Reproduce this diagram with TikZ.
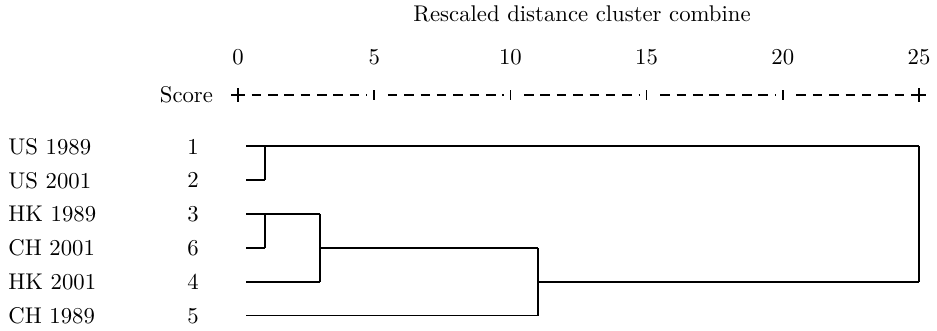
\documentclass[tikz,border=0pt]{standalone}
\usepackage{tikz}
\usetikzlibrary{positioning}
\tikzset{
    case/.style = {anchor=west,inner sep=0},
    idx/.style = {inner sep=0},
    axis/.style = {line width=0.8pt,dash pattern=on 4.2pt off 3pt},
    tick/.style = {line width=0.7pt},
    tree/.style = {line width=0.8pt}
}
\begin{document}
\begin{tikzpicture}[x=0.44pt,y=-0.44pt]
        \newcommand*\hsep{27.24}
        \newcommand*\vsep{33.9}
        \useasboundingbox (0,0) rectangle (937,330);
        % Title and scale
        \node (title) at (582,14) {Rescaled distance cluster combine};
        \foreach \k in {0,5,...,25}
            \node (n\k) at (238+\k*\hsep,57) {\k};
        \foreach \k in {0,5,...,25}
            \coordinate (t\k) at (238+\k*\hsep,95);
        \node[anchor=east] (score) at (221,95) {Score};
        \foreach \src/\dest in {t0/t5,t5/t10,t10/t15,t15/t20,t20/t25}
            \draw[axis,shorten <=6,shorten >=3] (\src) -- (\dest);
        \foreach \k in {5,10,15,20}
            \draw[tick] (t\k) ++(0,-5) -- ++(0,10);
        \foreach \k in {0,25}
            \draw[tick] (t\k) ++(-7,0) -- ++(14,0) (t\k) ++(0,-7) -- ++(0,14);
        % Cases
        \path (8,146.5) node[case] (us89) {US 1989}
            to +(0,\vsep) node[case] (us01) {US 2001}
            to +(0,2*\vsep) node[case] (hk89) {HK 1989}
            to +(0,3*\vsep) node[case] (ch01) {CH 2001}
            to +(0,4*\vsep) node[case] (hk01) {HK 2001}
            to +(0,5*\vsep) node[case] (ch89) {CH 1989}
        ;
        \path (193,146.5) node[idx] (i1) {1}
            to +(0,\vsep) node[idx] (i2) {2}
            to +(0,2*\vsep) node[idx] (i3) {3}
            to +(0,3*\vsep) node[idx] (i6) {6}
            to +(0,4*\vsep) node[idx] (i4) {4}
            to +(0,5*\vsep) node[idx] (i5) {5}
        ;
        % Leaves
        \path (246,146) coordinate (s1)
            to +(0,\vsep) coordinate (s2)
            to +(0,2*\vsep) coordinate (s3)
            to +(0,3*\vsep) coordinate (s6)
            to +(0,4*\vsep) coordinate (s4)
            to +(0,5*\vsep) coordinate (s5)
        ;
        % Joins
        \path (238+1*\hsep,0) coordinate (x1)
            (238+3*\hsep,0) coordinate (x3)
            (238+11*\hsep,0) coordinate (x11);
        \coordinate (u1) at (x1 |- s1);
        \coordinate (u2) at (x1 |- s2);
        \coordinate (v3) at (x1 |- s3);
        \coordinate (v6) at (x1 |- s6);
        \coordinate (w3) at (x3 |- s3);
        \coordinate (w4) at (x3 |- s4);
        \coordinate (w6) at (x3 |- s6);
        \coordinate (y6) at (x11 |- s6);
        \coordinate (y5) at (x11 |- s5);
        \coordinate (y4) at (x11 |- s4);
        \coordinate (z1) at (t25 |- s1);
        \coordinate (z4) at (t25 |- s4);
        % Dendrogram
        \foreach \src/\dest in {s1/z1,s2/u2,u2/u1,s3/w3,s6/v6,v6/v3,w3/w4,s4/w4,w6/y6,s5/y5,y5/y6,y4/z4,z4/z1}
            \draw[tree] (\src) -- (\dest);
    \end{tikzpicture}
\end{document}
